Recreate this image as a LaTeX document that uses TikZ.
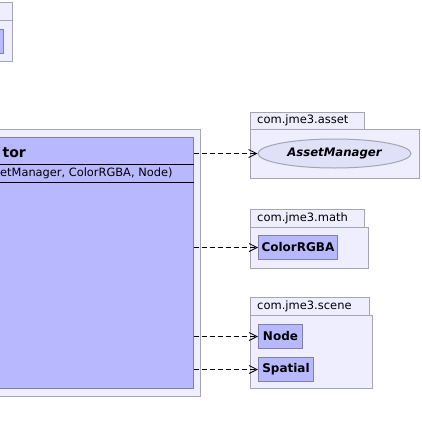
\documentclass[tikz,border=0pt]{standalone}
\usepackage{fontspec}
\setmainfont{DejaVu Sans}
\usetikzlibrary{arrows.meta,shapes.geometric}
\definecolor{pkgfill}{RGB}{238,238,255}
\definecolor{pkgline}{RGB}{164,164,180}
\definecolor{clsfill}{RGB}{184,184,255}
\definecolor{clsline}{RGB}{128,128,176}
\definecolor{usefill}{RGB}{224,224,248}
\tikzset{
  pkg/.style={draw=pkgline, fill=pkgfill, line width=1pt, inner sep=0pt, anchor=north west},
  cls/.style={draw=clsline, fill=clsfill, line width=1pt, inner sep=0pt, anchor=north west,
    font=\fontsize{12}{14}\selectfont\bfseries},
  pkglabel/.style={anchor=west, inner sep=0pt, font=\fontsize{11.5}{13}\selectfont},
  dep/.style={line width=0.8pt, dash pattern=on 5pt off 3pt,
    -{Straight Barb[length=8pt,width=8pt]}}
}

\begin{document}
\begin{tikzpicture}[x=1pt,y=-1pt]
  \clip (0,0) rectangle (422,434);
  \useasboundingbox (0,0) rectangle (422,434);

  % package cut off at the top left
  \node[pkg, minimum width=22, minimum height=18] (oldtab) at (-10,2) {};
  \node[pkg, minimum width=22, minimum height=41] (oldpkg) at (-10,20) {};
  \node[cls, minimum width=13, minimum height=24] (oldcls) at (-10,29) {};

  % package of the emitter class
  \node[pkg, minimum width=210, minimum height=267] (mainpkg) at (-10,129) {};
  \node[cls, minimum width=203, minimum height=251] (maincls) at (-10,137) {};
  \draw[line width=1pt] (maincls.west |- 0,164) -- (maincls.east |- 0,164);
  \draw[line width=1pt] (maincls.west |- 0,182) -- (maincls.east |- 0,182);
  \node[anchor=base east, inner sep=0pt, font=\fontsize{14}{16}\selectfont\bfseries] (clsname) at (26,157) {tor};
  \node[anchor=base west, inner sep=0pt, font=\fontsize{11.4}{13}\selectfont] (clsctor) at (0,176) {etManager, ColorRGBA, Node)};

  % com.jme3.asset
  \node[pkg, minimum width=114, minimum height=17] (assettab) at (250,112) {};
  \node[pkg, minimum width=169, minimum height=49] (assetpkg) at (250,129) {};
  \node[pkglabel] (assetlbl) at (257,120.5) {com.jme3.asset};
  \node[ellipse, draw=pkgline, fill=usefill, line width=1pt, inner sep=0pt,
    minimum width=153, minimum height=29, font=\fontsize{11.7}{13}\selectfont\bfseries\itshape]
    (asset) at (334.5,153.5) {AssetManager};

  % com.jme3.math
  \node[pkg, minimum width=114, minimum height=18] (mathtab) at (250,209) {};
  \node[pkg, minimum width=118, minimum height=41] (mathpkg) at (250,227) {};
  \node[pkglabel] (mathlbl) at (257,218) {com.jme3.math};
  \node[cls, minimum width=79, minimum height=24] (color) at (258,235) {ColorRGBA};

  % com.jme3.scene
  \node[pkg, minimum width=119, minimum height=18] (scenetab) at (250,297) {};
  \node[pkg, minimum width=122, minimum height=73] (scenepkg) at (250,315) {};
  \node[pkglabel] (scenelbl) at (257,306) {com.jme3.scene};
  \node[cls, minimum width=44, minimum height=24] (node) at (258,324) {Node};
  \node[cls, minimum width=55, minimum height=24] (spatial) at (258,357) {Spatial};

  \draw[dep] (maincls.east |- asset.west) -- (asset.west);
  \draw[dep] (maincls.east |- color.west) -- (color.west);
  \draw[dep] (maincls.east |- node.west) -- (node.west);
  \draw[dep] (maincls.east |- spatial.west) -- (spatial.west);
\end{tikzpicture}
\end{document}
